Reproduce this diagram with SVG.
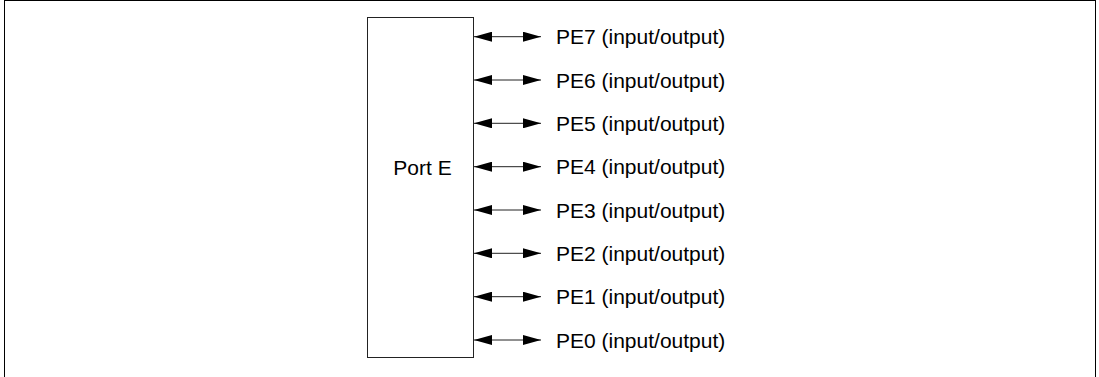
<svg xmlns="http://www.w3.org/2000/svg" width="1099" height="377" viewBox="0 0 1099 377">
<style>
.lbl{font-family:"Liberation Sans",Arial,sans-serif;font-size:21px;fill:#000}
.box{fill:#fff;stroke:#222;stroke-width:1}
.conn line{stroke:#222;stroke-width:1;marker-start:url(#ah);marker-end:url(#ah)}
</style>
<defs>
<marker id="ah" viewBox="0 0 18 10" refX="18" refY="5" markerWidth="18" markerHeight="10" markerUnits="userSpaceOnUse" orient="auto-start-reverse">
<path d="M0,0 L18,5 L0,10 Z" fill="#000"/>
</marker>
</defs>
<rect width="1099" height="377" fill="#fff"/>
<rect x="4.5" y="0.5" width="1091" height="390" fill="none" stroke="#000" stroke-width="1"/>
<g id="portE">
<rect class="box" x="367.5" y="17.5" width="106" height="340"/>
<text class="lbl" x="422.5" y="174.5" text-anchor="middle">Port E</text>
</g>
<g id="connectors" class="conn">
<line x1="474" y1="36.7" x2="541" y2="36.7"/>
<line x1="474" y1="80" x2="541" y2="80"/>
<line x1="474" y1="123.3" x2="541" y2="123.3"/>
<line x1="474" y1="166.7" x2="541" y2="166.7"/>
<line x1="474" y1="210" x2="541" y2="210"/>
<line x1="474" y1="253.3" x2="541" y2="253.3"/>
<line x1="474" y1="296.7" x2="541" y2="296.7"/>
<line x1="474" y1="340" x2="541" y2="340"/>
</g>
<g id="PE7"><text class="lbl" x="556" y="44.2">PE7 (input/output)</text></g>
<g id="PE6"><text class="lbl" x="556" y="87.5">PE6 (input/output)</text></g>
<g id="PE5"><text class="lbl" x="556" y="130.8">PE5 (input/output)</text></g>
<g id="PE4"><text class="lbl" x="556" y="174.2">PE4 (input/output)</text></g>
<g id="PE3"><text class="lbl" x="556" y="217.5">PE3 (input/output)</text></g>
<g id="PE2"><text class="lbl" x="556" y="260.8">PE2 (input/output)</text></g>
<g id="PE1"><text class="lbl" x="556" y="304.2">PE1 (input/output)</text></g>
<g id="PE0"><text class="lbl" x="556" y="347.5">PE0 (input/output)</text></g>
</svg>
